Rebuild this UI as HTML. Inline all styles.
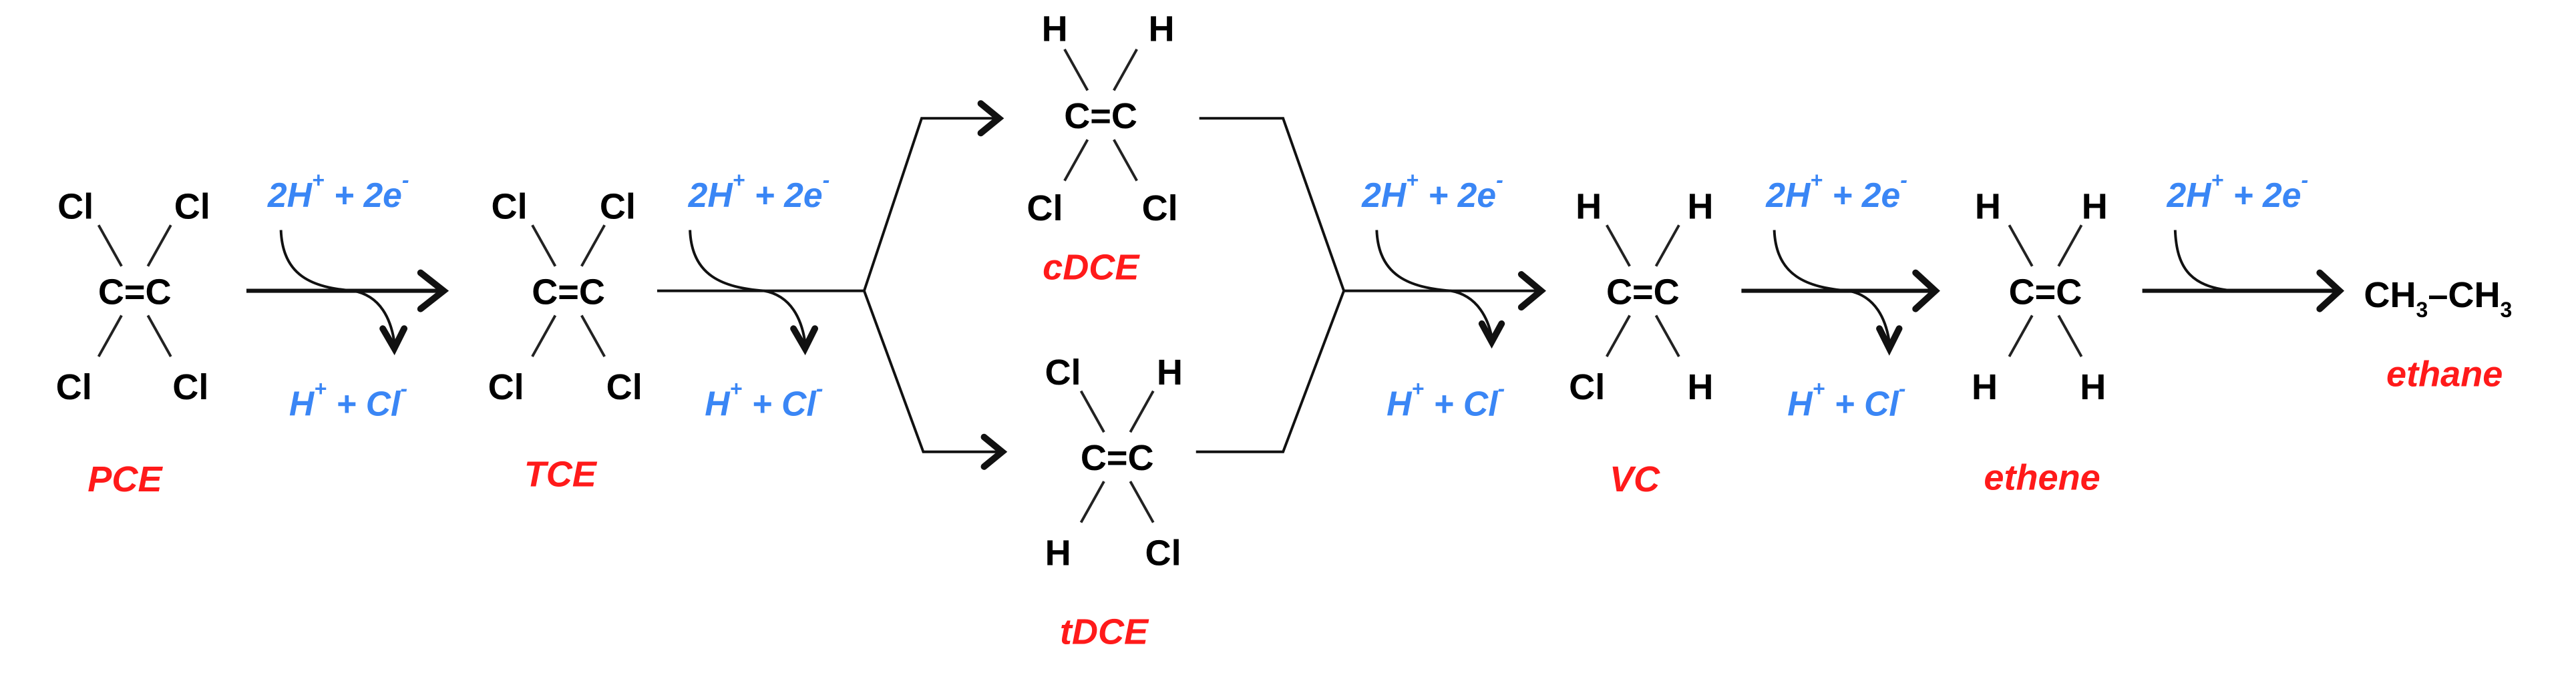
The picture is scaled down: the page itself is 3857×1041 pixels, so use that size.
<!DOCTYPE html>
<html><head><meta charset="utf-8"><style>
html,body{margin:0;padding:0;background:#fff;}
svg{display:block;}
.k{font-family:"Liberation Sans",sans-serif;font-weight:bold;font-size:22px;fill:#000;text-anchor:middle;}
.b{font-family:"Liberation Sans",sans-serif;font-weight:bold;font-style:italic;font-size:21px;fill:#3a86f5;text-anchor:middle;}
.r{font-family:"Liberation Sans",sans-serif;font-weight:bold;font-style:italic;font-size:22px;fill:#ff1a1a;text-anchor:middle;}
.l{stroke:#222;stroke-width:1.6;fill:none;}
.a{stroke:#111;stroke-width:4;fill:none;stroke-linecap:round;stroke-linejoin:miter;}
.c{stroke:#111;stroke-width:1.6;fill:none;}
</style></head><body>
<svg width="3857" height="1041" viewBox="0 0 1568 423" preserveAspectRatio="none" xmlns="http://www.w3.org/2000/svg">
<defs>
<g id="bonds">
<line class="l" x1="-22" y1="-40" x2="-8" y2="-15"/>
<line class="l" x1="22" y1="-40" x2="8" y2="-15"/>
<line class="l" x1="-8" y1="15" x2="-22" y2="40"/>
<line class="l" x1="8" y1="15" x2="22" y2="40"/>
</g>
</defs>

<!-- PCE -->
<g transform="translate(82,177)">
<use href="#bonds"/>
<text class="k" x="0" y="8">C=C</text>
<text class="k" x="-36" y="-44">Cl</text><text class="k" x="35" y="-44">Cl</text>
<text class="k" x="-37" y="66">Cl</text><text class="k" x="34" y="66">Cl</text>
</g>
<text class="r" x="76" y="299">PCE</text>

<!-- TCE -->
<g transform="translate(346,177)">
<use href="#bonds"/>
<text class="k" x="0" y="8">C=C</text>
<text class="k" x="-36" y="-44">Cl</text><text class="k" x="30" y="-44">Cl</text>
<text class="k" x="-38" y="66">Cl</text><text class="k" x="34" y="66">Cl</text>
</g>
<text class="r" x="341" y="296">TCE</text>

<!-- cDCE -->
<g transform="translate(670,70)">
<use href="#bonds"/>
<text class="k" x="0" y="8">C=C</text>
<text class="k" x="-28" y="-45">H</text><text class="k" x="37" y="-45">H</text>
<text class="k" x="-34" y="64">Cl</text><text class="k" x="36" y="64">Cl</text>
</g>
<text class="r" x="664" y="170">cDCE</text>

<!-- tDCE -->
<g transform="translate(680,278)">
<use href="#bonds"/>
<text class="k" x="0" y="8">C=C</text>
<text class="k" x="-33" y="-44">Cl</text><text class="k" x="32" y="-44">H</text>
<text class="k" x="-36" y="66">H</text><text class="k" x="28" y="66">Cl</text>
</g>
<text class="r" x="672" y="392">tDCE</text>

<!-- VC -->
<g transform="translate(1000,177)">
<use href="#bonds"/>
<text class="k" x="0" y="8">C=C</text>
<text class="k" x="-33" y="-44">H</text><text class="k" x="35" y="-44">H</text>
<text class="k" x="-34" y="66">Cl</text><text class="k" x="35" y="66">H</text>
</g>
<text class="r" x="995" y="299">VC</text>

<!-- ethene -->
<g transform="translate(1245,177)">
<use href="#bonds"/>
<text class="k" x="0" y="8">C=C</text>
<text class="k" x="-35" y="-44">H</text><text class="k" x="30" y="-44">H</text>
<text class="k" x="-37" y="66">H</text><text class="k" x="29" y="66">H</text>
</g>
<text class="r" x="1243" y="298">ethene</text>

<!-- ethane -->
<text class="k" x="1484" y="187" style="font-size:22px">CH<tspan font-size="13" dy="6">3</tspan><tspan dy="-6">–CH</tspan><tspan font-size="13" dy="6">3</tspan></text>
<text class="r" x="1488" y="235">ethane</text>

<!-- arrow 1 -->
<line class="c" x1="150" y1="177" x2="270" y2="177" style="stroke-width:2.5"/>
<polyline class="a" points="256,166 270,177 256,188"/>
<path class="c" d="M171,140 C172,168 190,175 215,177 C232,180 238,195 240,208"/>
<polyline class="a" points="233,200 240,212 246,200"/>
<text class="b" x="206" y="126">2H<tspan font-size="13" dy="-12">+</tspan><tspan dy="12"> + 2e</tspan><tspan font-size="13" dy="-12">-</tspan></text>
<text class="b" x="212" y="253">H<tspan font-size="13" dy="-12">+</tspan><tspan dy="12"> + Cl</tspan><tspan font-size="13" dy="-12">-</tspan></text>

<!-- arrow 2 -->
<line class="c" x1="400" y1="177" x2="526" y2="177"/>
<path class="c" d="M420,140 C421,168 440,175 465,177 C482,180 488,195 490,208"/>
<polyline class="a" points="483,200 490,212 496,200"/>
<text class="b" x="462" y="126">2H<tspan font-size="13" dy="-12">+</tspan><tspan dy="12"> + 2e</tspan><tspan font-size="13" dy="-12">-</tspan></text>
<text class="b" x="465" y="253">H<tspan font-size="13" dy="-12">+</tspan><tspan dy="12"> + Cl</tspan><tspan font-size="13" dy="-12">-</tspan></text>

<!-- branch -->
<polyline class="c" points="526,177 561,72 608,72"/>
<polyline class="a" points="597,63 608,72 597,81"/>
<polyline class="c" points="526,177 562,275 610,275"/>
<polyline class="a" points="599,266 610,275 599,284"/>

<!-- merge -->
<polyline class="c" points="730,72 781,72 818,177 781,275 728,275"/>

<!-- arrow 3 -->
<line class="c" x1="818" y1="177" x2="938" y2="177"/>
<polyline class="a" points="926,167 938,177 926,187"/>
<path class="c" d="M838,140 C839,168 858,175 883,177 C900,180 906,195 908,205"/>
<polyline class="a" points="902,197 908,208 914,197"/>
<text class="b" x="872" y="126">2H<tspan font-size="13" dy="-12">+</tspan><tspan dy="12"> + 2e</tspan><tspan font-size="13" dy="-12">-</tspan></text>
<text class="b" x="880" y="253">H<tspan font-size="13" dy="-12">+</tspan><tspan dy="12"> + Cl</tspan><tspan font-size="13" dy="-12">-</tspan></text>

<!-- arrow 4 -->
<line class="c" x1="1060" y1="177" x2="1178" y2="177" style="stroke-width:2.5"/>
<polyline class="a" points="1166,166 1178,177 1166,188"/>
<path class="c" d="M1080,140 C1081,168 1100,175 1125,177 C1142,180 1148,195 1150,208"/>
<polyline class="a" points="1144,200 1150,212 1156,200"/>
<text class="b" x="1118" y="126">2H<tspan font-size="13" dy="-12">+</tspan><tspan dy="12"> + 2e</tspan><tspan font-size="13" dy="-12">-</tspan></text>
<text class="b" x="1124" y="253">H<tspan font-size="13" dy="-12">+</tspan><tspan dy="12"> + Cl</tspan><tspan font-size="13" dy="-12">-</tspan></text>

<!-- arrow 5 -->
<line class="c" x1="1304" y1="177" x2="1424" y2="177" style="stroke-width:2.5"/>
<polyline class="a" points="1412,166 1424,177 1412,188"/>
<path class="c" d="M1324,140 C1325,165 1335,175 1360,177"/>
<text class="b" x="1362" y="126">2H<tspan font-size="13" dy="-12">+</tspan><tspan dy="12"> + 2e</tspan><tspan font-size="13" dy="-12">-</tspan></text>
</svg>
</body></html>
